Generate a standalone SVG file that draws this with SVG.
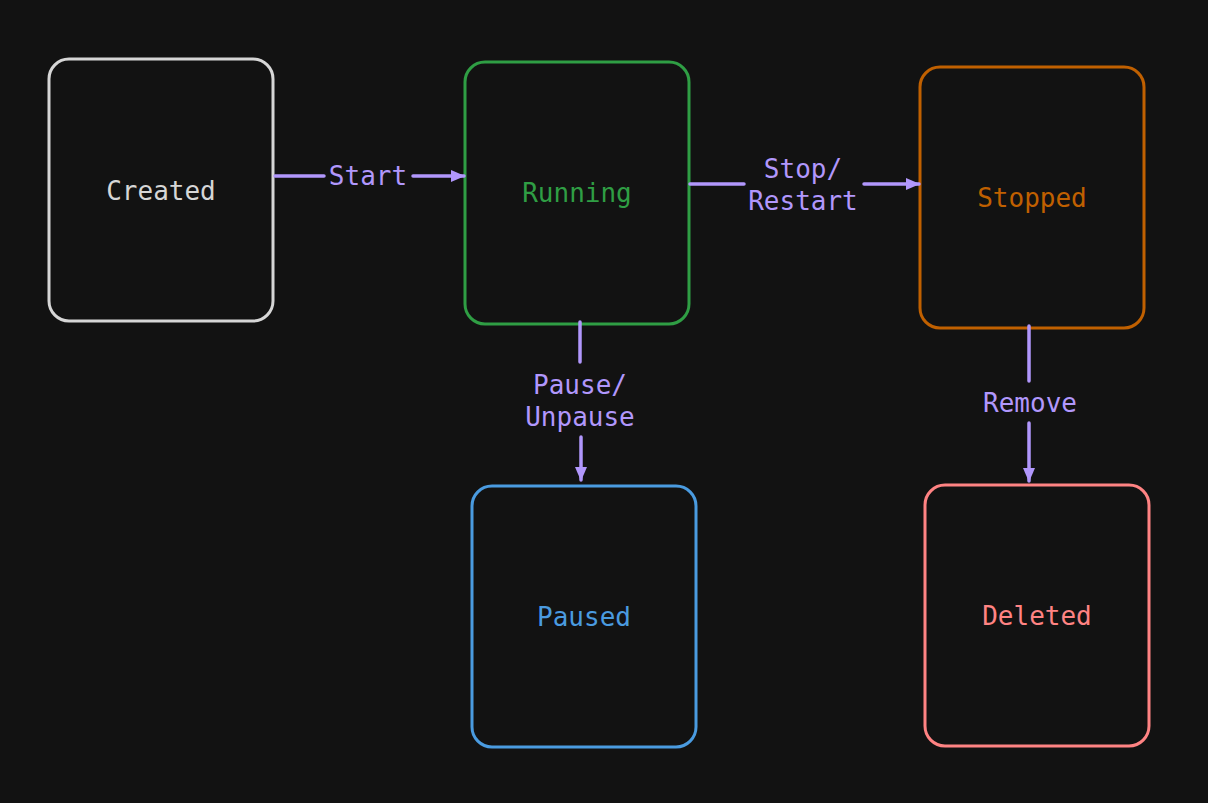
<svg xmlns="http://www.w3.org/2000/svg" width="1208" height="803" viewBox="0 0 1208 803">
<defs>
<style>
.box{fill:#121212;stroke-width:3}
.t{font-family:"DejaVu Sans Mono","Liberation Mono",monospace;font-size:26px;text-anchor:middle;dominant-baseline:central}
.lbl{fill:#b197fc}
.ln{stroke:#b197fc;stroke-width:3.5;fill:none;stroke-linecap:round}
</style>
<marker id="ah" viewBox="0 0 14 12" refX="13" refY="6" markerWidth="14" markerHeight="12" markerUnits="userSpaceOnUse" orient="auto">
<path d="M0,0 L14,6 L0,12 Z" fill="#b197fc"/>
</marker>
</defs>
<rect width="1208" height="803" fill="#121212"/>
<g id="created">
<rect class="box" x="49" y="59" width="224" height="262" rx="20" stroke="#d6d6d6"/>
<text class="t" x="161" y="191" fill="#d6d6d6">Created</text>
</g>
<g id="running">
<rect class="box" x="465" y="62" width="224" height="262" rx="20" stroke="#2f9e44"/>
<text class="t" x="577" y="193" fill="#2f9e44">Running</text>
</g>
<g id="stopped">
<rect class="box" x="920" y="67" width="224" height="261" rx="20" stroke="#c06000"/>
<text class="t" x="1032" y="198" fill="#c06000">Stopped</text>
</g>
<g id="paused">
<rect class="box" x="472" y="486" width="224" height="261" rx="20" stroke="#4a9be0"/>
<text class="t" x="584" y="617" fill="#4a9be0">Paused</text>
</g>
<g id="deleted">
<rect class="box" x="925" y="485" width="224" height="261" rx="20" stroke="#ff8383"/>
<text class="t" x="1037" y="616" fill="#ff8383">Deleted</text>
</g>
<g id="connectors">
<path class="ln" d="M275,176 L324,176"/>
<path class="ln" d="M413,176 L464,176" marker-end="url(#ah)"/>
<text class="t lbl" x="368" y="176">Start</text>
<path class="ln" d="M690,184 L744,184"/>
<path class="ln" d="M864,184 L919,184" marker-end="url(#ah)"/>
<text class="t lbl" x="803" y="169">Stop/</text>
<text class="t lbl" x="803" y="201">Restart</text>
<path class="ln" d="M580,322 L580,362"/>
<path class="ln" d="M581,437 L581,480" marker-end="url(#ah)"/>
<text class="t lbl" x="580" y="385">Pause/</text>
<text class="t lbl" x="580" y="417">Unpause</text>
<path class="ln" d="M1029,326 L1029,381"/>
<path class="ln" d="M1029,423 L1029,481" marker-end="url(#ah)"/>
<text class="t lbl" x="1030" y="403">Remove</text>
</g>
</svg>
